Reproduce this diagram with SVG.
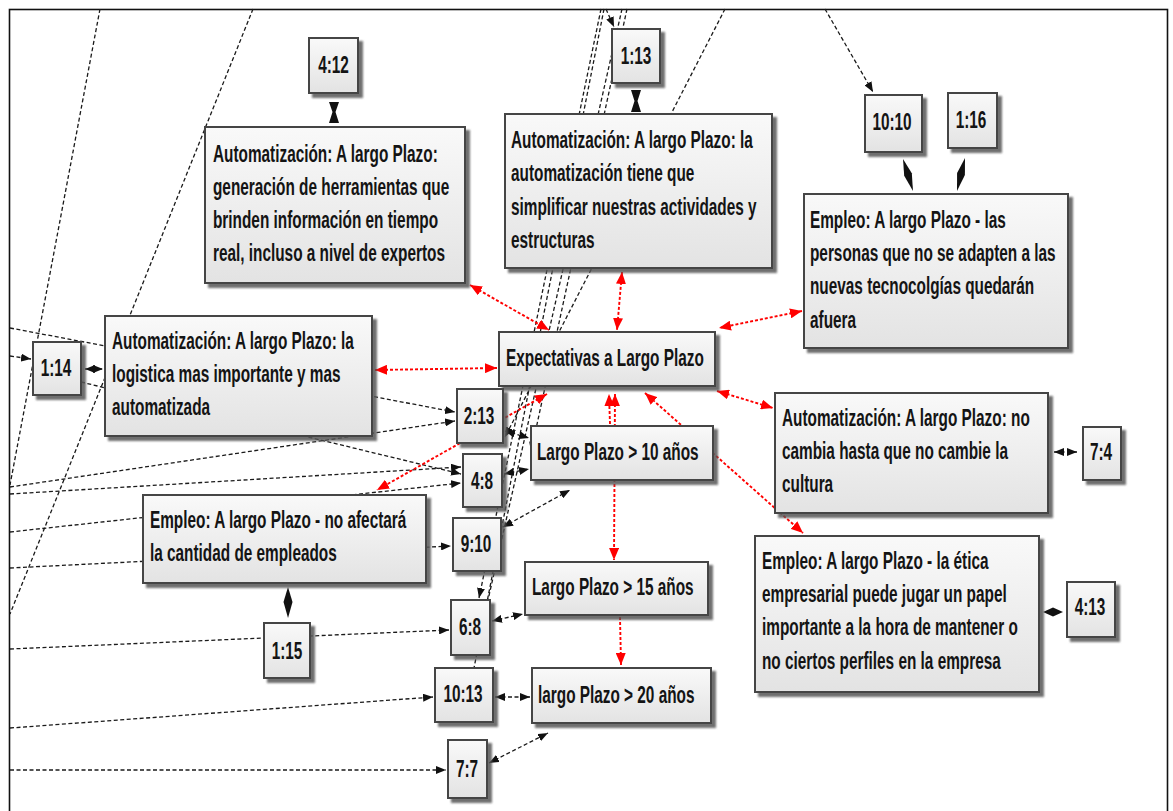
<svg xmlns="http://www.w3.org/2000/svg" width="1173" height="811" viewBox="0 0 1173 811">
<defs>
<linearGradient id="g" x1="0" y1="0" x2="0" y2="1">
<stop offset="0" stop-color="#f9f9f9"/><stop offset="1" stop-color="#e3e3e3"/>
</linearGradient>
<filter id="sh" x="-10%" y="-10%" width="130%" height="140%">
<feDropShadow dx="4" dy="4" stdDeviation="1.3" flood-color="#555" flood-opacity="0.85"/>
</filter>
<marker id="ab" viewBox="0 0 10 8" refX="10" refY="4" markerWidth="10" markerHeight="8" markerUnits="userSpaceOnUse" orient="auto-start-reverse"><path d="M0,0L10,4L0,8z" fill="#111"/></marker>
<marker id="ar" viewBox="0 0 12 10" refX="12" refY="5" markerWidth="12" markerHeight="10" markerUnits="userSpaceOnUse" orient="auto-start-reverse"><path d="M0,0L12,5L0,10z" fill="#f00"/></marker>
<style>
.box{fill:url(#g);stroke:#454545;stroke-width:2;filter:url(#sh)}
.t{font-family:"Liberation Sans",Arial,sans-serif;font-size:24px;font-weight:bold;fill:#141414}
.c{fill:none;stroke:#1a1a1a;stroke-width:1.3;stroke-dasharray:4 2.5}
.r{fill:none;stroke:#f00;stroke-width:1.9;stroke-dasharray:3 2}
.hg{fill:#111}
</style>
</defs>
<rect x="9.5" y="9.5" width="1158" height="812" fill="#fff" stroke="#111" stroke-width="1.6"/>
<g id="connectors">
<path class="c" d="M825,9 L873,92" marker-end="url(#ab)"/>
<path class="c" d="M606,9 L614,27" marker-end="url(#ab)"/>
<path class="c" d="M100,9 L10,485"/>
<path class="c" d="M253,9 L10,614"/>
<path class="c" d="M10,328 L455,412" marker-end="url(#ab)"/>
<path class="c" d="M10,487 L455,421" marker-end="url(#ab)"/>
<path class="c" d="M81,382 L461,474" marker-end="url(#ab)"/>
<path class="c" d="M10,494 L461,467" marker-end="url(#ab)"/>
<path class="c" d="M10,532 L461,483" marker-end="url(#ab)"/>
<path class="c" d="M10,568 L451,546" marker-end="url(#ab)"/>
<path class="c" d="M10,649 L449,630" marker-end="url(#ab)"/>
<path class="c" d="M10,728 L433,697" marker-end="url(#ab)"/>
<path class="c" d="M10,770 L446,770" marker-end="url(#ab)"/>
<path class="c" d="M10,356 L31,359" marker-end="url(#ab)"/>
<path class="c" d="M601,9 L479,598" marker-end="url(#ab)"/>
<path class="c" d="M604,9 L474,668"/>
<path class="c" d="M622,9 L488,600"/>
<path class="c" d="M627,9 L531,452" marker-end="url(#ab)"/>
<path class="c" d="M725,9 L505,437" marker-end="url(#ab)"/>
<path class="c" d="M85,369 L103,369" marker-start="url(#ab)" marker-end="url(#ab)"/>
<path class="c" d="M505,431 L529,438" marker-start="url(#ab)" marker-end="url(#ab)"/>
<path class="c" d="M504,474 L529,469" marker-start="url(#ab)" marker-end="url(#ab)"/>
<path class="c" d="M503,527 L570,490" marker-start="url(#ab)" marker-end="url(#ab)"/>
<path class="c" d="M492,621 L523,614" marker-start="url(#ab)" marker-end="url(#ab)"/>
<path class="c" d="M495,697 L530,697" marker-start="url(#ab)" marker-end="url(#ab)"/>
<path class="c" d="M489,763 L548,733" marker-start="url(#ab)" marker-end="url(#ab)"/>
<path class="c" d="M1054,452 L1077,452" marker-start="url(#ab)" marker-end="url(#ab)"/>
<polygon class="hg" points="1043,612 1053,607.5 1063,612 1053,616.5"/>
<polygon class="hg" points="288,587 292.5,602 288,618 283.5,602"/>
<polygon class="hg" points="903,159 911.8,173.3 913,191 904.2,175.7"/>
<polygon class="hg" points="965,158 964.9,175 957,191 957.1,173"/>
<polygon class="hg" points="329,102 339,102 335.5,112 339,123 329,123 332.5,112"/>
<polygon class="hg" points="631,90 641,90 637.5,101 641,112 631,112 634.5,101"/>
<path class="r" d="M470,285 L549,330" marker-start="url(#ar)" marker-end="url(#ar)"/>
<path class="r" d="M622,272 L617,330" marker-start="url(#ar)" marker-end="url(#ar)"/>
<path class="r" d="M802,311 L719,328" marker-start="url(#ar)" marker-end="url(#ar)"/>
<path class="r" d="M375,370 L497,368" marker-start="url(#ar)" marker-end="url(#ar)"/>
<path class="r" d="M717,391 L773,408" marker-start="url(#ar)" marker-end="url(#ar)"/>
<path class="r" d="M645,393 L803,533" marker-start="url(#ar)" marker-end="url(#ar)"/>
<path class="r" d="M610,424 L609,394" marker-end="url(#ar)"/>
<path class="r" d="M615,394 L614,560" marker-start="url(#ar)" marker-end="url(#ar)"/>
<path class="r" d="M620,617 L621,665" marker-end="url(#ar)"/>
<path class="r" d="M547,394 L377,490" marker-start="url(#ar)" marker-end="url(#ar)"/>
</g>
<g id="nodes">
<g id="n412"><rect class="box" x="309" y="38" width="49" height="55"/><text class="t" text-anchor="middle" transform="translate(333.5 0) scale(0.64 1)" x="0" y="73">4:12</text></g>
<g id="n113"><rect class="box" x="612" y="29" width="48" height="54"/><text class="t" text-anchor="middle" transform="translate(636 0) scale(0.64 1)" x="0" y="64">1:13</text></g>
<g id="n1010"><rect class="box" x="865" y="95" width="57" height="57"/><text class="t" text-anchor="middle" transform="translate(892 0) scale(0.64 1)" x="0" y="130">10:10</text></g>
<g id="n116"><rect class="box" x="948" y="93" width="49" height="55"/><text class="t" text-anchor="middle" transform="translate(971 0) scale(0.64 1)" x="0" y="128">1:16</text></g>
<g id="nA"><rect class="box" x="205" y="127" width="260" height="156"/><text class="t" transform="translate(213 0) scale(0.64 1)"><tspan x="0" y="162">Automatización: A largo Plazo:</tspan><tspan x="0" y="195">generación de herramientas que</tspan><tspan x="0" y="228">brinden información en tiempo</tspan><tspan x="0" y="261">real, incluso a nivel de expertos</tspan></text></g>
<g id="nB"><rect class="box" x="505" y="114" width="267" height="154"/><text class="t" transform="translate(511 0) scale(0.64 1)"><tspan x="0" y="148">Automatización: A largo Plazo: la</tspan><tspan x="0" y="181">automatización tiene que</tspan><tspan x="0" y="215">simplificar nuestras actividades y</tspan><tspan x="0" y="248">estructuras</tspan></text></g>
<g id="nEmp1"><rect class="box" x="804" y="194" width="264" height="154"/><text class="t" transform="translate(810 0) scale(0.64 1)"><tspan x="0" y="228">Empleo: A largo Plazo - las</tspan><tspan x="0" y="261">personas que no se adapten a las</tspan><tspan x="0" y="294">nuevas tecnocolgías quedarán</tspan><tspan x="0" y="328">afuera</tspan></text></g>
<g id="n114"><rect class="box" x="33" y="342" width="48" height="53"/><text class="t" text-anchor="middle" transform="translate(56 0) scale(0.64 1)" x="0" y="376">1:14</text></g>
<g id="nLog"><rect class="box" x="105" y="316" width="267" height="120"/><text class="t" transform="translate(112 0) scale(0.64 1)"><tspan x="0" y="349">Automatización: A largo Plazo: la</tspan><tspan x="0" y="382">logistica mas importante y mas</tspan><tspan x="0" y="415">automatizada</tspan></text></g>
<g id="nExp"><rect class="box" x="499" y="332" width="216" height="54"/><text class="t" transform="translate(506 0) scale(0.64 1)" x="0" y="366">Expectativas a Largo Plazo</text></g>
<g id="n213"><rect class="box" x="457" y="389" width="46" height="54"/><text class="t" text-anchor="middle" transform="translate(479 0) scale(0.64 1)" x="0" y="424">2:13</text></g>
<g id="n10"><rect class="box" x="531" y="426" width="182" height="54"/><text class="t" transform="translate(537 0) scale(0.64 1)" x="0" y="460">Largo Plazo &gt; 10 años</text></g>
<g id="nCamb"><rect class="box" x="775" y="393" width="273" height="120"/><text class="t" transform="translate(782 0) scale(0.64 1)"><tspan x="0" y="426">Automatización: A largo Plazo: no</tspan><tspan x="0" y="459">cambia hasta que no cambie la</tspan><tspan x="0" y="492">cultura</tspan></text></g>
<g id="n74"><rect class="box" x="1083" y="427" width="38" height="53"/><text class="t" text-anchor="middle" transform="translate(1101 0) scale(0.64 1)" x="0" y="460">7:4</text></g>
<g id="n48"><rect class="box" x="463" y="454" width="39" height="53"/><text class="t" text-anchor="middle" transform="translate(482 0) scale(0.64 1)" x="0" y="489">4:8</text></g>
<g id="nAfec"><rect class="box" x="143" y="495" width="283" height="88"/><text class="t" transform="translate(150 0) scale(0.64 1)"><tspan x="0" y="528">Empleo: A largo Plazo - no afectará</tspan><tspan x="0" y="561">la cantidad de empleados</tspan></text></g>
<g id="n910"><rect class="box" x="453" y="518" width="48" height="53"/><text class="t" text-anchor="middle" transform="translate(476 0) scale(0.64 1)" x="0" y="552">9:10</text></g>
<g id="nEtica"><rect class="box" x="755" y="536" width="284" height="156"/><text class="t" transform="translate(762 0) scale(0.64 1)"><tspan x="0" y="569">Empleo: A largo Plazo - la ética</tspan><tspan x="0" y="602">empresarial puede jugar un papel</tspan><tspan x="0" y="635">importante a la hora de mantener o</tspan><tspan x="0" y="669">no ciertos perfiles en la empresa</tspan></text></g>
<g id="n15"><rect class="box" x="525" y="562" width="183" height="53"/><text class="t" transform="translate(532 0) scale(0.64 1)" x="0" y="595">Largo Plazo &gt; 15 años</text></g>
<g id="n413"><rect class="box" x="1067" y="582" width="48" height="55"/><text class="t" text-anchor="middle" transform="translate(1090 0) scale(0.64 1)" x="0" y="615">4:13</text></g>
<g id="n68"><rect class="box" x="451" y="600" width="39" height="55"/><text class="t" text-anchor="middle" transform="translate(470 0) scale(0.64 1)" x="0" y="635">6:8</text></g>
<g id="n115"><rect class="box" x="264" y="623" width="46" height="55"/><text class="t" text-anchor="middle" transform="translate(287 0) scale(0.64 1)" x="0" y="659">1:15</text></g>
<g id="n1013"><rect class="box" x="435" y="668" width="58" height="54"/><text class="t" text-anchor="middle" transform="translate(463 0) scale(0.64 1)" x="0" y="702">10:13</text></g>
<g id="n20"><rect class="box" x="532" y="668" width="179" height="55"/><text class="t" transform="translate(538 0) scale(0.64 1)" x="0" y="703">largo Plazo &gt; 20 años</text></g>
<g id="n77"><rect class="box" x="448" y="740" width="39" height="58"/><text class="t" text-anchor="middle" transform="translate(467 0) scale(0.64 1)" x="0" y="777">7:7</text></g>
</g>
</svg>
